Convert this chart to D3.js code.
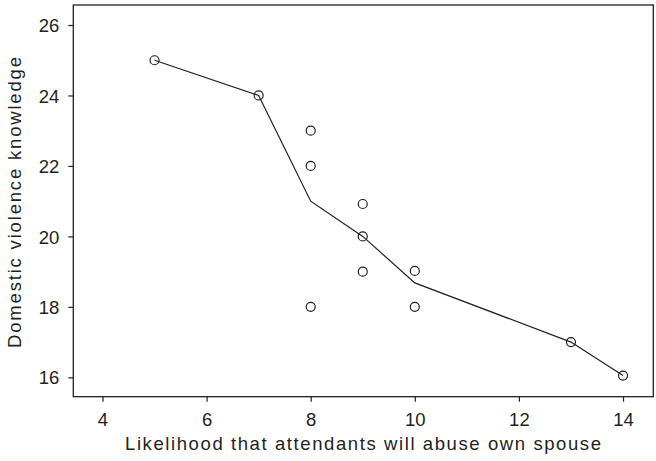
<!DOCTYPE html>
<html><head><meta charset="utf-8">
<script src="https://cdn.jsdelivr.net/npm/d3@7"></script>
<style>body{margin:0;background:#fff}svg{display:block}</style>
</head><body>
<script>
// Data
const pointX = [5, 7, 8, 8, 8, 9, 9, 9, 10, 10, 13, 14];
const pointY = [25, 24, 23, 22, 18, 20.92, 20, 19, 19.02, 18, 17, 16.05];
const smoothX = [5, 7, 8, 9, 10, 13, 14];
const smoothY = [25, 24, 21, 20, 18.68, 17, 16.05];
const xTicks = [4, 6, 8, 10, 12, 14];
const yTicks = [16, 18, 20, 22, 24, 26];
const xTitle = "Likelihood that attendants will abuse own spouse";
const yTitle = "Domestic violence knowledge";

(function () {
const W = 656, H = 461;
const ink = "#231f20";
const svg = d3.select("body").append("svg").attr("width", W).attr("height", H);

const mL = 73.3, mR = 653.3, mT = 5, mB = 396.7;
const x = d3.scaleLinear().domain([3.439, 14.582]).range([mL, mR]);
const y = d3.scaleLinear().domain([15.45, 26.568]).range([mB, mT]);

const font = "'Liberation Sans', Arial, sans-serif";

// frame
svg.append("rect").attr("x", mL).attr("y", mT).attr("width", mR - mL).attr("height", mB - mT)
  .attr("fill", "none").attr("stroke", ink).attr("stroke-width", 1.3);

const xAxis = svg.append("g").attr("transform", `translate(0,${mB})`)
  .call(d3.axisBottom(x).tickValues(xTicks).tickSize(5).tickPadding(5).tickFormat(d3.format("d")));
const yAxis = svg.append("g").attr("transform", `translate(${mL},0)`)
  .call(d3.axisLeft(y).tickValues(yTicks).tickSize(5).tickPadding(9).tickFormat(d3.format("d")));
[xAxis, yAxis].forEach(a => {
  a.select(".domain").remove();
  a.selectAll("line").attr("stroke", ink).attr("stroke-width", 1.2);
  a.selectAll("text").attr("fill", ink).style("font-family", font).style("font-size", "18.5px");
});
xAxis.selectAll("text").attr("y", 29.3).attr("dy", 0);
yAxis.selectAll("text").attr("dy", "0.36em");

// smooth line
const line = d3.line().x(d => x(d[0])).y(d => y(d[1]));
svg.append("path").datum(d3.zip(smoothX, smoothY)).attr("d", line)
  .attr("fill", "none").attr("stroke", ink).attr("stroke-width", 1.2);

// points
svg.append("g").selectAll("circle").data(d3.zip(pointX, pointY)).join("circle")
  .attr("cx", d => x(d[0])).attr("cy", d => y(d[1])).attr("r", 4.5)
  .attr("fill", "none").attr("stroke", ink).attr("stroke-width", 1.2);

// titles
svg.append("text").attr("x", 363).attr("y", 450).attr("text-anchor", "middle")
  .attr("textLength", 476).attr("lengthAdjust", "spacing")
  .attr("fill", ink).style("font-family", font).style("font-size", "18.5px").text(xTitle);
svg.append("text").attr("transform", "translate(21,202.5) rotate(-90)").attr("text-anchor", "middle")
  .attr("textLength", 291).attr("lengthAdjust", "spacing")
  .attr("fill", ink).style("font-family", font).style("font-size", "18.5px").text(yTitle);
})();
</script>
</body></html>
